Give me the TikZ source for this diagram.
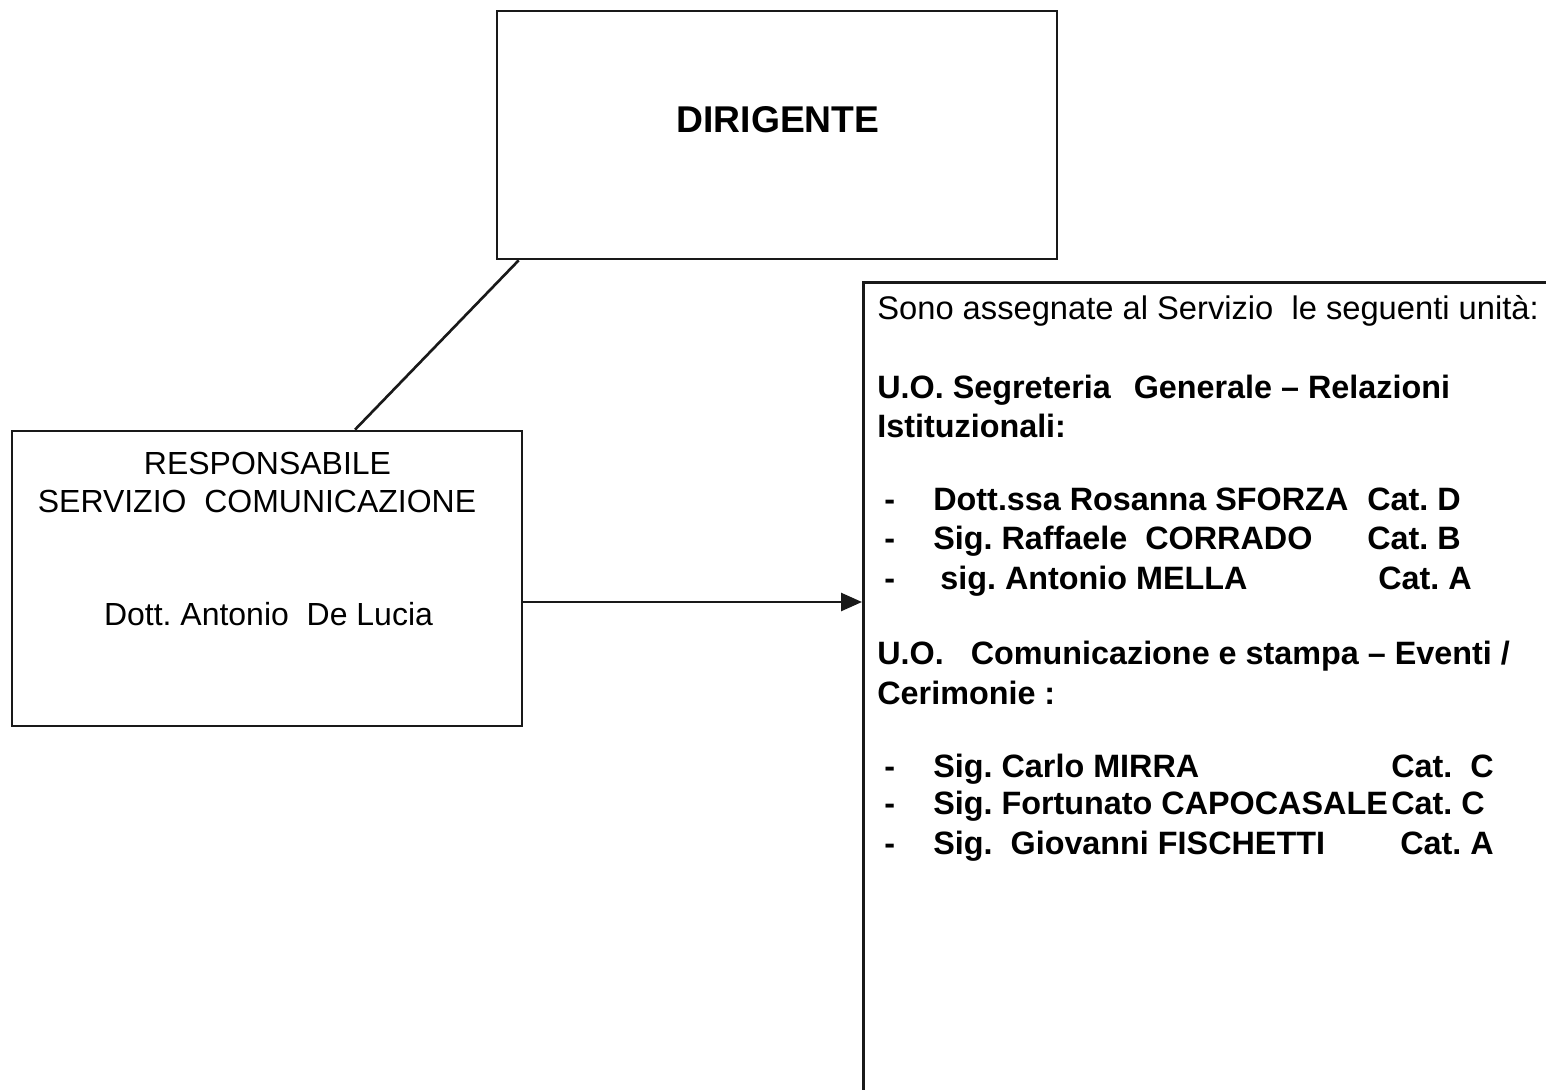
\documentclass[tikz,border=0pt]{standalone}
\usepackage{fontspec}
\setmainfont{Liberation Sans}
\usepackage{tikz}
\usetikzlibrary{arrows.meta, positioning}
\tikzstyle{box} = [rectangle, draw=black!90, line width=1.5pt, inner sep=0pt]
\tikzstyle{titolo} = [anchor=base, inner sep=0pt, font=\fontsize{21.2}{25}\selectfont\bfseries]
\tikzstyle{resp} = [anchor=base, inner sep=0pt, font=\fontsize{18.2}{21.5}\selectfont]
\tikzstyle{riga} = [anchor=base west, inner sep=0pt, font=\fontsize{18.6}{22}\selectfont]
\tikzstyle{voce} = [riga, font=\fontsize{18.4}{22}\selectfont\bfseries]
\tikzstyle{arrow} = [line width=1.5pt, draw=black!90, -{Triangle[length=0.42cm,width=0.36cm]}]
\frenchspacing
\begin{document}
\begin{tikzpicture}
\useasboundingbox (0,0) rectangle (30.92,-21.8);
\clip (0,0) rectangle (30.92,-21.8);
% boxes
\node (dirigente) [box, minimum width=11.2cm, minimum height=4.96cm] at (15.54,-2.70) {};
\node (responsabile) [box, minimum width=10.2cm, minimum height=5.9cm] at (5.34,-11.57) {};
\node (unita) [box, anchor=north west, minimum width=14.5cm, minimum height=17cm] at (17.24,-5.62) {};
% texts
\node (dirtext) [titolo] at (15.56,-2.66) {DIRIGENTE};
\node (resp1) [resp] at (5.35,-9.48) {RESPONSABILE};
\node (resp2) [resp] at (5.14,-10.24) {SERVIZIO\ \ COMUNICAZIONE};
\node (resp3) [resp] at (5.37,-12.50) {Dott. Antonio\ \ De Lucia};
\node (intro) [riga] at (17.54,-6.40) {Sono assegnate al Servizio\ \ le seguenti unità:};
\node (uo1a) [voce] at (17.54,-7.96) {U.O. Segreteria\ \ \hspace{0.15em}Generale – Relazioni};
\node (uo1b) [voce] at (17.54,-8.74) {Istituzionali:};
\node (uo2a) [voce] at (17.54,-13.28) {U.O.\ \ \ Comunicazione e stampa – Eventi /};
\node (uo2b) [voce] at (17.54,-14.08) {Cerimonie :};
% staff
\foreach \y in {-10.20,-10.98,-11.78,-15.54,-16.28,-17.08}
  \node [voce] at (17.68,\y) {-};
\node (sforza) [voce] at (18.66,-10.20) {Dott.ssa Rosanna SFORZA};
\node (corrado) [voce] at (18.66,-10.98) {Sig. Raffaele\ \ CORRADO};
\node (mella) [voce] at (18.80,-11.78) {sig. Antonio MELLA};
\node (mirra) [voce] at (18.66,-15.54) {Sig. Carlo MIRRA};
\node (capocasale) [voce] at (18.66,-16.28) {Sig. Fortunato CAPOCASALE};
\node (fischetti) [voce] at (18.66,-17.08) {Sig.\ \ Giovanni FISCHETTI};
\node (catd) [voce] at (27.34,-10.20) {Cat. D};
\node (catb) [voce] at (27.34,-10.98) {Cat. B};
\node (cata) [voce] at (27.56,-11.78) {Cat. A};
\node (catc) [voce] at (27.82,-15.54) {Cat.\ \ C};
\node (catc2) [voce] at (27.82,-16.28) {Cat. C};
\node (cata2) [voce] at (28.00,-17.08) {Cat. A};
% connectors
\draw [line width=1.5pt, draw=black!90] ([xshift=0.46cm]dirigente.south west) -- ([xshift=1.76cm]responsabile.north);
\coordinate (arrowstart) at ([yshift=-0.47cm]responsabile.east);
\draw [arrow] (arrowstart) -- (arrowstart -| unita.west);
\end{tikzpicture}
\end{document}
